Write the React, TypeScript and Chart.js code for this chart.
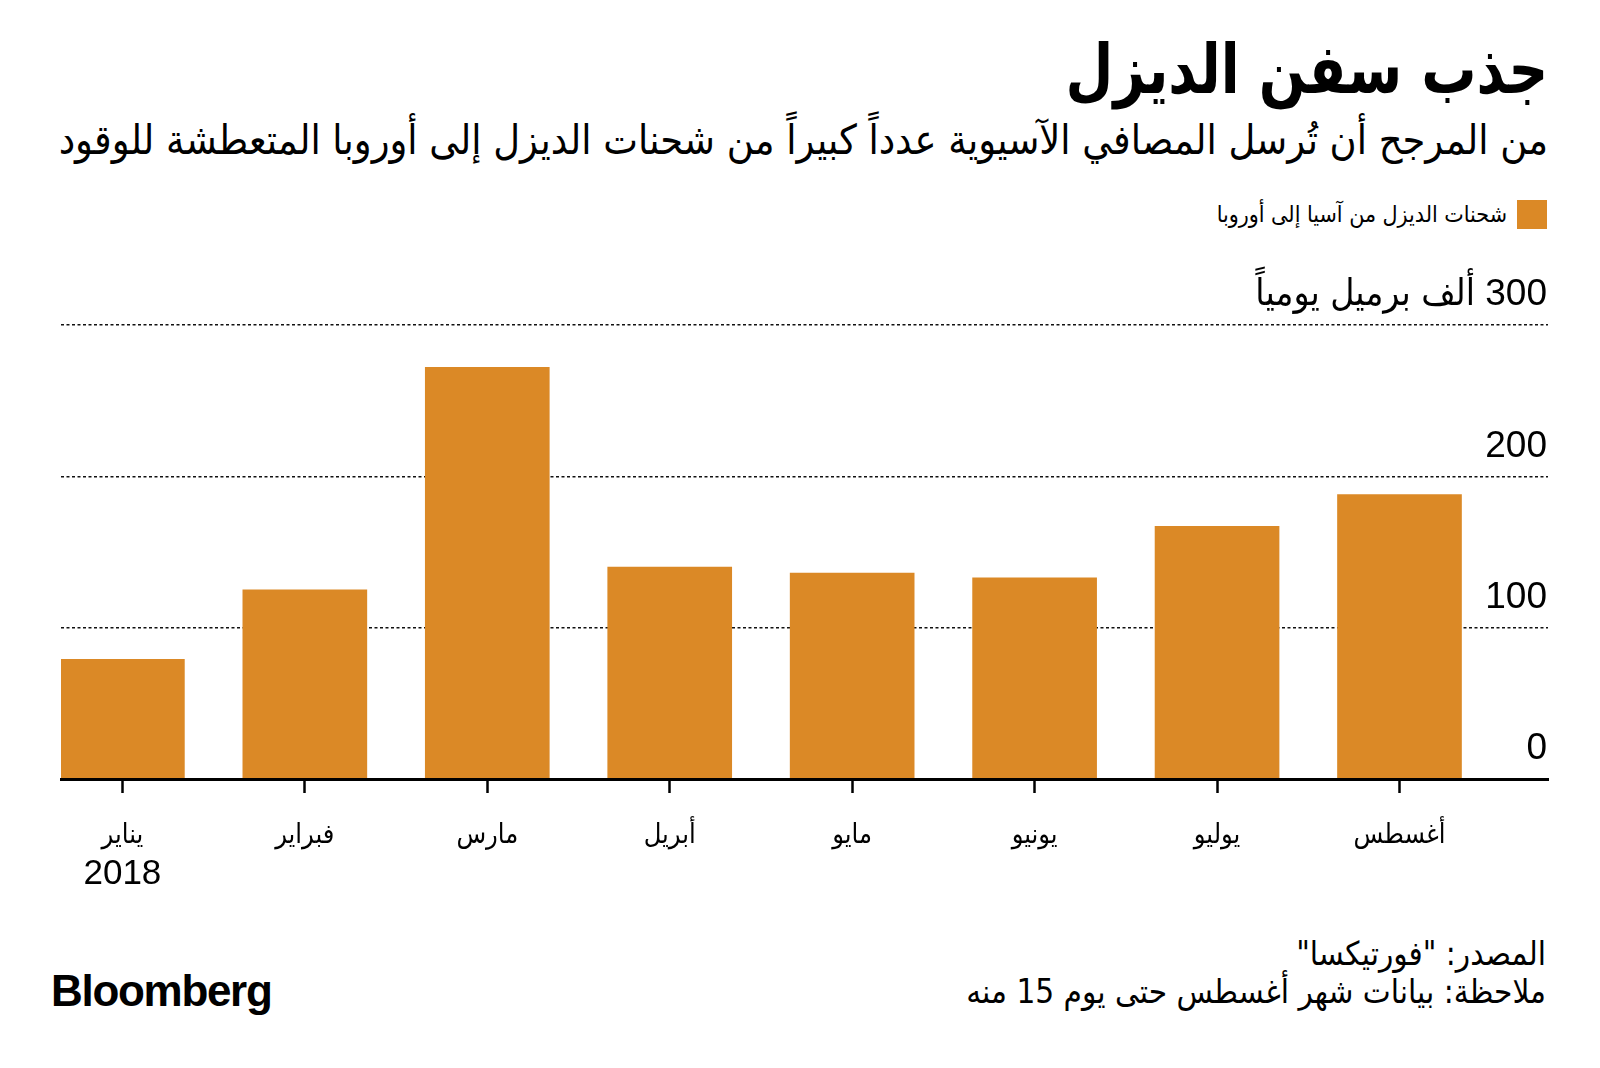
import React, { useEffect, useRef } from 'react';
import { Chart, registerables } from 'chart.js';

Chart.register(...registerables);

// ---- data ----
const months = ['يناير', 'فبراير', 'مارس', 'أبريل', 'مايو', 'يونيو', 'يوليو', 'أغسطس'];
const values = [79, 125, 272, 140, 136, 133, 167, 188];
const yTickValues = [0, 100, 200, 300];
const yUnit = 'ألف برميل يومياً';
const yearLabel = '2018';
const seriesName = 'شحنات الديزل من آسيا إلى أوروبا';
const titleText = 'جذب سفن الديزل';
const subtitleText = 'من المرجح أن تُرسل المصافي الآسيوية عدداً كبيراً من شحنات الديزل إلى أوروبا المتعطشة للوقود';
const sourceText = 'المصدر: "فورتيكسا"';
const noteText = 'ملاحظة: بيانات شهر أغسطس حتى يوم 15 منه';

const BAR_COLOR = '#DB8926';
const AR_FONT = '"DejaVu Sans Condensed", "DejaVu Sans", sans-serif';
const NUM_FONT = '"Liberation Sans", "DejaVu Sans Condensed", "DejaVu Sans", sans-serif';

const yearPlugin = {
  id: 'yearLabel',
  afterDraw(chart: any) {
    const xs = chart.scales.x;
    const ctx = chart.ctx;
    ctx.save();
    ctx.font = `35px ${NUM_FONT}`;
    ctx.fillStyle = '#000';
    ctx.textAlign = 'center';
    ctx.textBaseline = 'middle';
    ctx.fillText(yearLabel, xs.getPixelForValue(0), chart.chartArea.bottom + 95);
    ctx.restore();
  },
};

export default function App() {
  const canvasRef = useRef<HTMLCanvasElement | null>(null);

  useEffect(() => {
    document.body.style.margin = '0';
    const canvas = canvasRef.current!;
    const chart = new Chart(canvas, {
      type: 'bar',
      data: {
        datasets: [
          {
            label: seriesName,
            data: values.map((v, i) => ({ x: i, y: v })),
            backgroundColor: BAR_COLOR,
            borderWidth: 0,
            barThickness: 124,
          },
        ],
      },
      options: {
        animation: false,
        responsive: false,
        devicePixelRatio: 1,
        layout: { padding: { left: 61, right: 52, top: 325, bottom: 21 } },
        plugins: {
          legend: { display: false },
          tooltip: { enabled: false },
          title: { display: false },
        },
        scales: {
          x: {
            type: 'linear',
            offset: false,
            min: -0.3365,
            max: 7.814,
            afterFit: (s: any) => {
              s.height = 100;
            },
            ticks: {
              stepSize: 1,
              includeBounds: false,
              autoSkip: false,
              maxRotation: 0,
              padding: 27,
              color: '#000',
              font: { family: AR_FONT, size: 27 },
              callback: (v: any) => (Number.isInteger(v) && months[v] !== undefined ? months[v] : ''),
            },
            grid: {
              display: true,
              offset: false,
              drawOnChartArea: false,
              drawTicks: true,
              tickLength: 14,
              tickWidth: 2.5,
              tickColor: '#000',
            },
            border: { display: true, color: '#000', width: 3, z: 1 },
          },
          y: {
            position: 'right',
            min: 0,
            max: 300,
            afterFit: (s: any) => {
              s.width = 0;
            },
            afterBuildTicks: (s: any) => {
              s.ticks = yTickValues.map((v) => ({ value: v }));
            },
            ticks: {
              mirror: true,
              padding: -1,
              labelOffset: -30,
              color: '#000',
              font: { family: NUM_FONT, size: 37 },
              callback: (v: any) => (v === 300 ? `${v} ${yUnit}` : `${v}`),
            },
            grid: {
              display: true,
              drawTicks: false,
              color: '#111',
              lineWidth: 1.5,
            },
            border: { display: false, dash: [3, 2.5] },
          },
        },
      },
      plugins: [yearPlugin],
    } as any);
    return () => chart.destroy();
  }, []);

  const abs: React.CSSProperties = { position: 'absolute', margin: 0, whiteSpace: 'nowrap', direction: 'rtl' };

  return (
    <div style={{ position: 'relative', width: 1600, height: 1068, background: '#fff', overflow: 'hidden' }}>
      <div
        style={{
          ...abs,
          right: 52,
          top: 28,
          fontFamily: AR_FONT,
          fontWeight: 'bold',
          fontSize: 68,
          lineHeight: '84px',
          color: '#000',
          transform: 'scaleX(0.9)',
          transformOrigin: 'right center',
        }}
      >
        {titleText}
      </div>
      <div style={{ ...abs, right: 52, top: 114, fontFamily: AR_FONT, fontSize: 41, lineHeight: '52px', color: '#000' }}>
        {subtitleText}
      </div>
      <div style={{ position: 'absolute', left: 1517, top: 200, width: 30, height: 29, background: BAR_COLOR }} />
      <div style={{ ...abs, right: 93, top: 198, fontFamily: AR_FONT, fontSize: 23, lineHeight: '32px', color: '#000' }}>
        {seriesName}
      </div>
      <canvas
        ref={canvasRef}
        width={1600}
        height={900}
        dir="rtl"
        style={{ position: 'absolute', left: 0, top: 0, width: 1600, height: 900 }}
      />
      <div style={{ ...abs, right: 54, top: 933, fontFamily: AR_FONT, fontSize: 33, lineHeight: '42px', color: '#000' }}>
        {sourceText}
      </div>
      <div style={{ ...abs, right: 54, top: 971, fontFamily: AR_FONT, fontSize: 33, lineHeight: '42px', color: '#000' }}>
        {noteText}
      </div>
      <div
        style={{
          position: 'absolute',
          left: 51,
          top: 966,
          fontFamily: '"Liberation Sans", Arial, sans-serif',
          fontWeight: 'bold',
          fontSize: 44,
          lineHeight: '50px',
          letterSpacing: '-1.3px',
          color: '#000',
        }}
      >
        Bloomberg
      </div>
    </div>
  );
}
